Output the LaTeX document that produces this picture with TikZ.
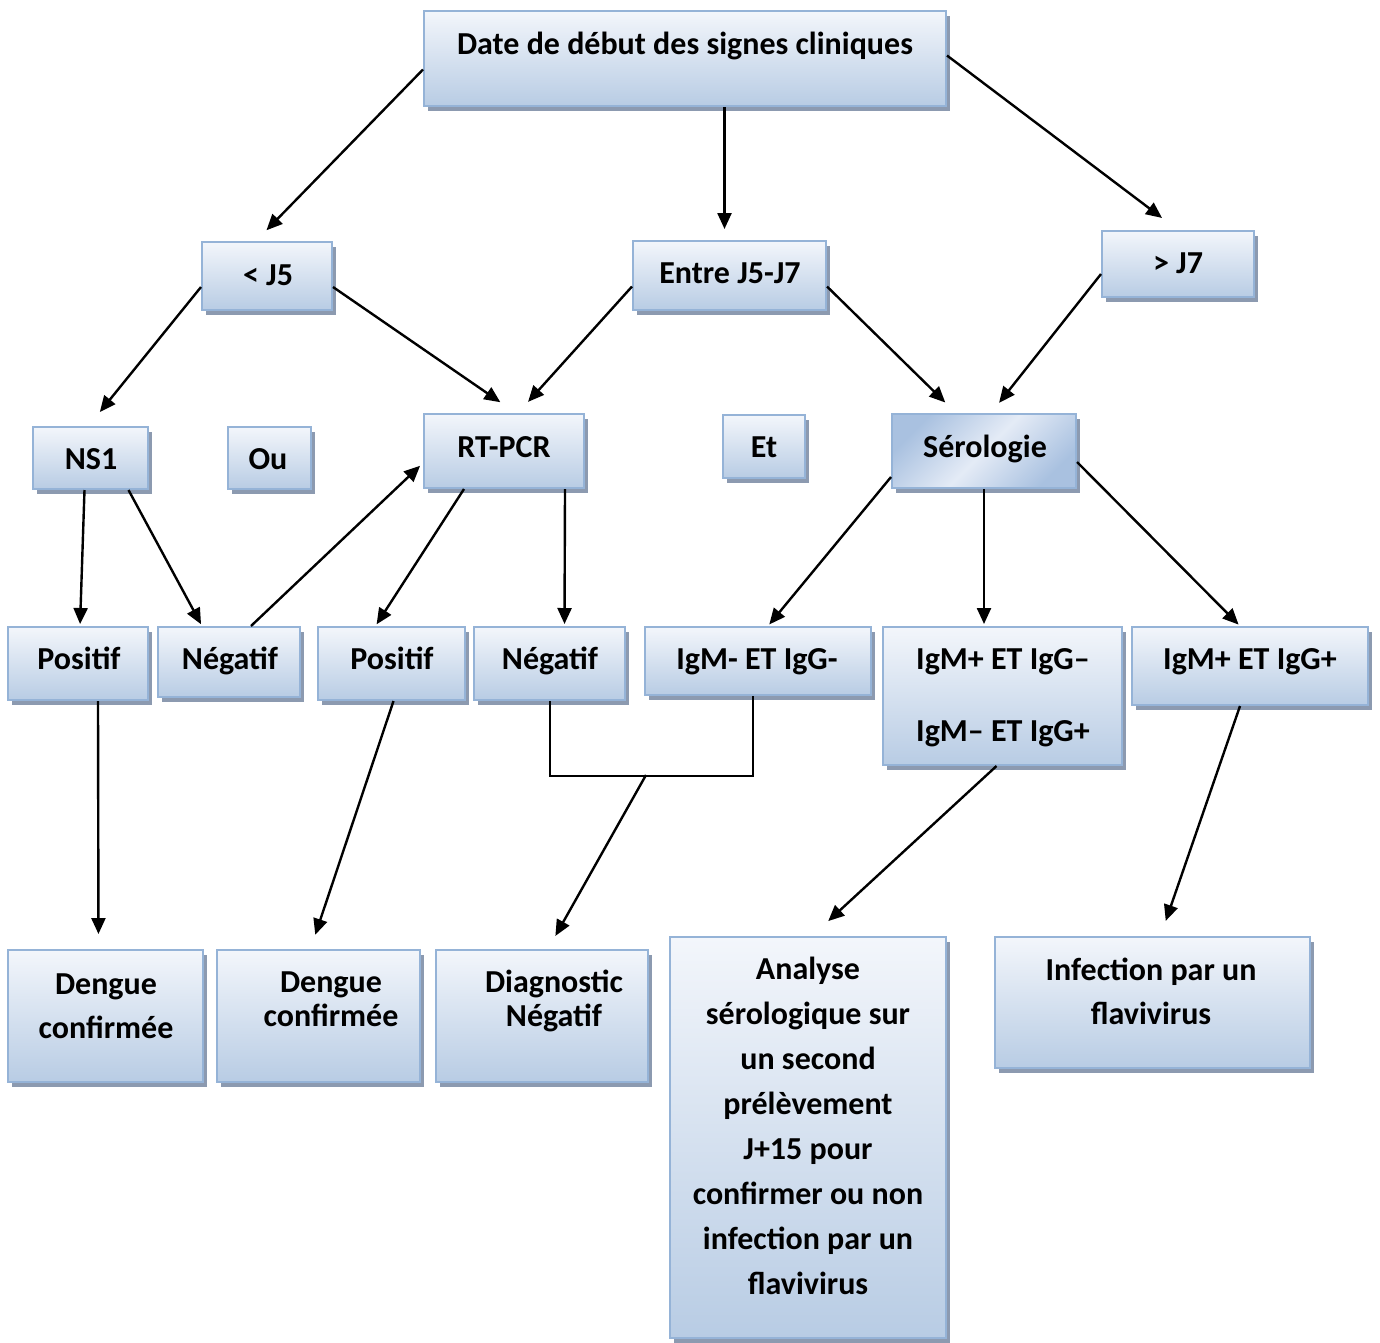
\documentclass[tikz,border=0pt]{standalone}
\usepackage{fontspec}
\setmainfont{Carlito}
\usetikzlibrary{shadows,fit,calc,arrows.meta}
\definecolor{bordc}{HTML}{95B3D7}
\definecolor{topc}{HTML}{F3F6FB}
\definecolor{botc}{HTML}{B8CCE4}
\definecolor{shadc}{HTML}{8C9AB0}
\definecolor{serdark}{HTML}{A9C1E0}
\definecolor{serlight}{HTML}{E4EBF6}
\tikzset{
 box/.style={draw=bordc, line width=2pt, top color=topc, bottom color=botc, inner sep=0pt,
   drop shadow={shadow xshift=4pt, shadow yshift=-5pt, fill=shadc, opacity=1}},
 serbox/.style={box, top color=serdark, bottom color=serdark, middle color=serlight, shading angle=45},
 txt/.style={font=\bfseries\fontsize{32}{45}\selectfont, align=center, inner sep=0pt, anchor=base},
 arr/.style={line width=2.4pt, -{Triangle[length=16pt,width=14pt]}},
 ln/.style={line width=2pt}
}
\begin{document}
\begin{tikzpicture}[x=1pt,y=-1pt]
\fill[white] (0,0) rectangle (1380,1342);
\useasboundingbox (0,0) rectangle (1380,1342);

% boxes
\node[box, fit={(424,11) (946,106)}] (top) {};
\node[box, fit={(202,242) (332,310)}] (lj5) {};
\node[box, fit={(633,241) (826,310)}] (ent) {};
\node[box, fit={(1102,231) (1254,297)}] (rj7) {};
\node[box, fit={(33,427) (148,489)}] (ns1) {};
\node[box, fit={(228,427) (311,489)}] (ou) {};
\node[box, fit={(424,414) (584,488)}] (rt) {};
\node[box, fit={(723,415) (805,478)}] (et) {};
\node[serbox, fit={(892,414) (1076,488)}] (ser) {};
\node[box, fit={(8,627) (148,700)}] (pos1) {};
\node[box, fit={(158,627) (300,697)}] (neg1) {};
\node[box, fit={(318,627) (465,700)}] (pos2) {};
\node[box, fit={(474,627) (625,700)}] (neg2) {};
\node[box, fit={(645,627) (871,695)}] (igmm) {};
\node[box, fit={(883,627) (1122,765)}] (igpm) {};
\node[box, fit={(1132,627) (1368,705)}] (igpp) {};
\node[box, fit={(8,950) (203,1082)}] (dc1) {};
\node[box, fit={(217,950) (420,1082)}] (dc2) {};
\node[box, fit={(436,950) (648,1082)}] (dn) {};
\node[box, fit={(670,937) (946,1338)}] (an) {};
\node[box, fit={(995,937) (1310,1068)}] (inf) {};

% texts (anchor base = baseline of the last line)
\node[txt] (topt) at (685,54) {Date de début des signes cliniques};
\node[txt] (lj5t) at (268,285) {< J5};
\node[txt] (entt) at (730,283) {Entre J5-J7};
\node[txt] (rj7t) at (1178,273) {> J7};
\node[txt] (ns1t) at (91,469) {NS1};
\node[txt] (out) at (268,469) {Ou};
\node[txt] (rtt) at (504,457) {RT-PCR};
\node[txt] (ett) at (764,457) {Et};
\node[txt] (sert) at (985,457) {Sérologie};
\node[txt] (pos1t) at (79,669) {Positif};
\node[txt] (neg1t) at (230,669) {Négatif};
\node[txt] (pos2t) at (392,669) {Positif};
\node[txt] (neg2t) at (550,669) {Négatif};
\node[txt] (igmmt) at (757,669) {IgM- ET IgG-};
\node[txt] (igpmt) at (1003,741) {IgM+ ET IgG–\\[27pt]IgM– ET IgG+};
\node[txt] (igppt) at (1250,669) {IgM+ ET IgG+};
\node[txt] (dc1t) at (106,1038) {Dengue\\[-1pt]confirmée};
\node[txt] (dc2t) at (331,1026) {Dengue\\[-11pt]confirmée};
\node[txt] (dnt) at (554,1026) {Diagnostic\\[-11pt]Négatif};
\node[txt] (ant) at (808,1294) {Analyse\\sérologique sur\\un second\\prélèvement\\J+15 pour\\confirmer ou non\\infection par un\\flavivirus};
\node[txt] (inft) at (1151,1024) {Infection par un\\[-1pt]flavivirus};

% connectors
\draw[arr, shorten >=15pt] ([yshift=-11pt]top.west) -- ([xshift=-11pt]lj5.north);
\draw[arr, shorten >=11pt] ([xshift=-5pt]ent.north |- top.south) -- ([xshift=-5pt]ent.north);
\draw[arr, shorten >=20pt] ([yshift=3pt]top.east) -- (rj7.north);
\draw[arr, shorten >=18pt] ([yshift=-11pt]lj5.west) -- ([xshift=-2pt]ns1.north);
\draw[arr, shorten >=19pt] ([yshift=-11pt]lj5.east) -- ([xshift=12pt]rt.north);
\draw[arr, shorten >=15pt] ([yshift=-11pt]ent.west) -- ([xshift=14pt]rt.north);
\draw[arr, shorten >=15pt] ([yshift=-11pt]ent.east) -- ([xshift=-28pt]ser.north);
\draw[arr, shorten >=13pt] ([yshift=-10pt]rj7.west) -- ([xshift=7pt]ser.north);
\draw[arr, shorten >=2pt] ([xshift=-6pt]ns1.south) -- ([xshift=2pt]pos1.north);
\draw[arr, shorten >=2pt] ([xshift=38pt]ns1.south) -- ([xshift=-27pt]neg1.north);
\draw[arr, shorten >=4pt] ([xshift=22pt]neg1.north) -- ([yshift=-12pt]rt.west);
\draw[arr, shorten >=2pt] ([xshift=-40pt]rt.south) -- ([xshift=-16pt]pos2.north);
\draw[arr, shorten >=2pt] ([xshift=61pt]rt.south) -- ([xshift=15pt]neg2.north);
\draw[arr, shorten >=2pt] ([yshift=-26pt]ser.west) -- ([xshift=10pt]igmm.north);
\draw[arr, shorten >=2pt] (ser.south) -- (ser.south |- igpm.north);
\draw[arr, shorten >=2pt] ([yshift=-11pt]ser.east) -- ([xshift=-10pt]igpp.north);
\draw[arr, shorten >=15pt] ([xshift=20pt]pos1.south) -- ([xshift=-7pt]dc1.north);
\draw[arr, shorten >=15pt] ([xshift=2pt]pos2.south) -- ([xshift=-8pt]dc2.north);
\draw[ln] (neg2.south) -- ++(0,75) coordinate (jl) -| ([xshift=-5pt]igmm.south);
\coordinate (jm) at (646,775);
\draw[arr, shorten >=15pt] (jm) -- ([xshift=6pt]dn.north);
\draw[arr, shorten >=22pt] ([xshift=-6pt]igpm.south) -- ([xshift=4pt]an.north);
\draw[arr, shorten >=16pt] ([xshift=-10pt]igpp.south) -- ([xshift=8pt]inf.north);
\end{tikzpicture}
\end{document}
